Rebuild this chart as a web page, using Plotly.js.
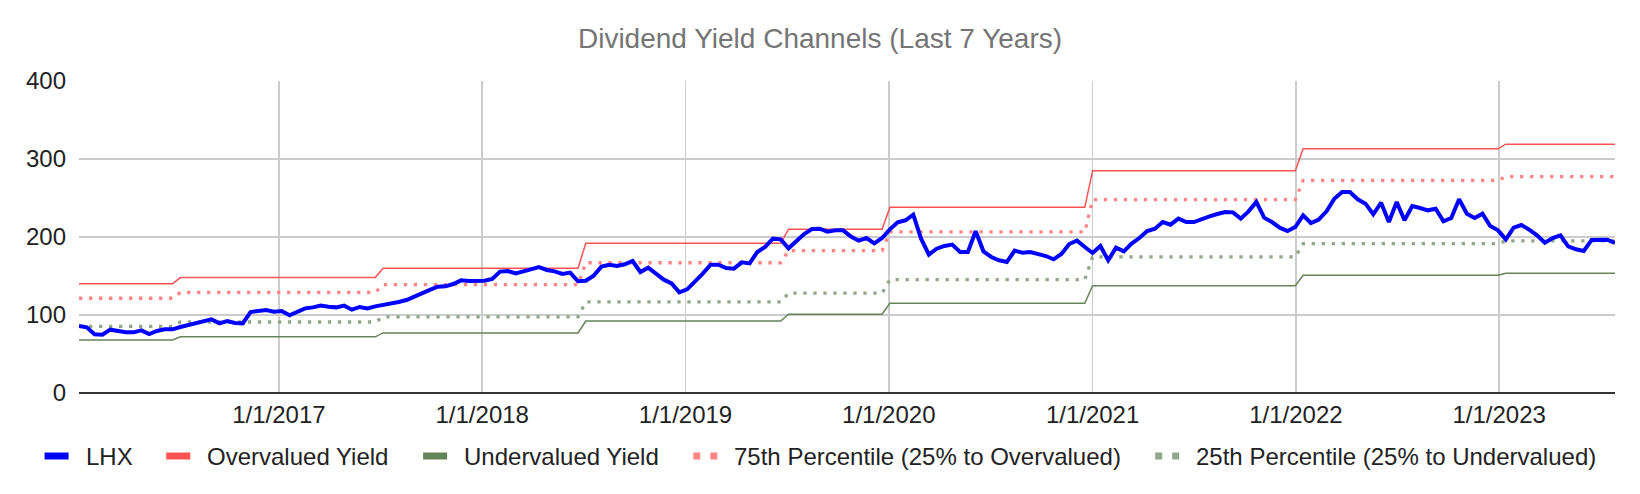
<!DOCTYPE html>
<html>
<head>
<meta charset="utf-8">
<script src="https://cdn.plot.ly/plotly-3.0.1.min.js"></script>
<style>
  html, body { margin: 0; padding: 0; background: #fff; }
  #chart { width: 1640px; height: 494px; }
</style>
</head>
<body>
<div id="chart"></div>
<script>
// LHX dividend yield, sampled every two weeks from the first date.
const lhxStart = '2016-01-08';
const lhxStepDays = 14;
const lhxValues = [
    85.9, 84.2, 75.2, 74.8, 81.2, 79.1, 77.8, 77.8, 80.3, 75.6, 79.5, 81.6, 81.6, 84.6, 87.2, 89.7, 91.9,
    94.4, 89.3, 92.3, 89.7, 89.3, 103.8, 105.6, 106.4, 104.3, 105.1, 99.6, 103.8, 108.5, 109.8, 112.0, 110.7, 109.8,
    112.0, 106.8, 110.3, 108.5, 111.1, 112.8, 114.1, 116.7, 119.2, 123.1, 127.4, 132.1, 136.3, 136.8, 139.7, 144.4,
    143.6, 143.6, 144.0, 146.2, 155.6, 156.4, 153.4, 156.0, 158.5, 161.5, 157.7, 156.0, 152.6, 154.3, 143.2, 144.0, 150.4,
    162.0, 164.5, 162.8, 165.0, 169.2, 155.1, 160.7, 153.0, 145.3, 140.6, 129.1, 132.9, 142.3, 153.0, 164.5, 164.5,
    160.3, 159.4, 167.5, 166.2, 180.8, 187.2, 197.9, 197.0, 185.5, 194.4, 203.8, 210.3, 210.7, 206.8, 208.5, 208.5, 200.6,
    195.3, 198.7, 191.9, 198.7, 209.8, 218.8, 221.4, 228.6, 197.9, 177.4, 185.0, 188.5, 190.2, 180.8, 180.8, 207.3, 181.6,
    174.4, 170.1, 167.9, 182.5, 179.9, 180.8, 178.2, 175.6, 171.4, 178.2, 191.0, 195.3, 187.2, 179.5, 188.5, 170.1, 186.3,
    181.6, 191.5, 198.7, 207.7, 210.7, 219.2, 215.8, 223.5, 219.2, 219.2, 223.1, 226.5, 229.5, 232.1, 231.6, 223.5,
    232.9, 244.9, 224.8, 219.2, 212.0, 207.7, 212.8, 227.8, 217.9, 222.2, 232.9, 249.1, 257.7, 257.7, 248.3, 242.7, 229.1,
    244.0, 219.2, 244.9, 221.4, 239.7, 237.2, 234.2, 236.3, 220.1, 224.4, 248.3, 229.9, 224.4, 229.9, 214.1, 208.5,
    197.0, 212.0, 215.4, 209.4, 202.1, 192.7, 198.7, 202.1, 188.0, 184.2, 182.1, 196.2, 196.6, 196.6, 192.3,
];

// Channel levels hold between a period's first and last sample.
const periodStarts = [ '2016-01-08', '2016-07-08', '2017-07-07', '2018-07-06', '2019-07-05', '2020-01-03', '2021-01-01', '2022-01-14', '2023-01-13' ];
const periodEnds = [ '2016-06-24', '2017-06-23', '2018-06-22', '2019-06-21', '2019-12-20', '2020-12-18', '2021-12-31', '2022-12-30', '2023-07-28' ];
const overvalued = [ 140, 148, 160, 192, 210, 238, 285, 313, 319 ];
const pct75 = [ 121.5, 129, 139, 167, 182.5, 206.5, 248, 272.5, 277.5 ];
const pct25 = [ 85.5, 91, 97.5, 116.7, 128, 145.3, 174.4, 191.5, 195 ];
const undervalued = [ 68, 72, 77, 92.3, 101, 115, 137.5, 151, 153.5 ];

const yearTicks = [ '2017-01-01', '2018-01-01', '2019-01-01', '2020-01-01', '2021-01-01', '2022-01-01', '2023-01-01' ];
const yearLabels = [ '1/1/2017', '1/1/2018', '1/1/2019', '1/1/2020', '1/1/2021', '1/1/2022', '1/1/2023' ];

const font = 'Arial, "Liberation Sans", sans-serif';
const margin = { l: 79, r: 25, t: 81, b: 101 };
const [ width, height ] = [ 1640, 494 ];
const plotW = width - margin.l - margin.r;
const plotH = height - margin.t - margin.b;

function addDays(iso, n) {
    const d = new Date(iso + 'T00:00:00Z');
    d.setUTCDate(d.getUTCDate() + n);
    return d.toISOString().slice(0, 10);
}

const lhxDates = lhxValues.map((_, i) => addDays(lhxStart, i * lhxStepDays));
const channelX = periodStarts.flatMap((start, i) => [ start, periodEnds[i] ]);
const channelY = levels => levels.flatMap(v => [ v, v ]);

const series = [
    { name: 'LHX', color: '#0000ff', width: 4, dash: 'solid', x: lhxDates, y: lhxValues },
    { name: 'Overvalued Yield', color: '#ff5252', width: 1.5, dash: 'solid', x: channelX, y: channelY(overvalued) },
    { name: 'Undervalued Yield', color: '#65845a', width: 1.5, dash: 'solid', x: channelX, y: channelY(undervalued) },
    { name: '75th Percentile (25% to Overvalued)', color: '#ff8585', width: 3.3, dash: '3.3px,6.7px', x: channelX, y: channelY(pct75), dotted: true },
    { name: '25th Percentile (25% to Undervalued)', color: '#93a68a', width: 3.3, dash: '3.3px,6.7px', x: channelX, y: channelY(pct25), dotted: true },
];

// Channels first so LHX is drawn on top.
const traces = [ ...series.slice(1), series[0] ].map(s => ({
    x: s.x, y: s.y, mode: 'lines', name: s.name, hoverinfo: 'skip',
    line: { color: s.color, width: s.width, dash: s.dash },
}));

// Legend drawn by hand: thick swatch, label, centred under the chart.
const ctx = document.createElement('canvas').getContext('2d');
ctx.font = `24px ${font}`;
const swatchW = 24, swatchH = 7, labelGap = 16, itemGap = 35, legendY = 456;
const itemWidths = series.map(s => swatchW + labelGap + ctx.measureText(s.name).width);
const legendW = itemWidths.reduce((a, b) => a + b, 0) + itemGap * (series.length - 1);
const toPaperX = px => (px - margin.l) / plotW;
const toPaperY = py => (margin.t + plotH - py) / plotH;

const shapes = [];
const annotations = [];
let cursor = width / 2 - legendW / 2;

series.forEach((s, i) => {
    const rect = (x0, x1) => ({
        type: 'rect', xref: 'paper', yref: 'paper', line: { width: 0 }, fillcolor: s.color,
        x0: toPaperX(x0), x1: toPaperX(x1),
        y0: toPaperY(legendY - swatchH / 2), y1: toPaperY(legendY + swatchH / 2),
    });

    if (s.dotted) {
        shapes.push(rect(cursor, cursor + swatchH), rect(cursor + swatchW - swatchH, cursor + swatchW));
    }
    else {
        shapes.push(rect(cursor, cursor + swatchW));
    }
    annotations.push({
        xref: 'paper', yref: 'paper', x: toPaperX(cursor + swatchW + labelGap), y: toPaperY(legendY),
        xanchor: 'left', yanchor: 'middle', showarrow: false, borderpad: 0,
        text: s.name, font: { family: font, size: 24, color: '#222' },
    });
    cursor += itemWidths[i] + itemGap;
});

const layout = {
    width,
    height,
    margin,
    paper_bgcolor: '#fff',
    plot_bgcolor: '#fff',
    font: { family: font, size: 24, color: '#222' },
    title: {
        text: 'Dividend Yield Channels (Last 7 Years)',
        font: { family: font, size: 28, color: '#757575' },
        x: 0.5, xref: 'container', xanchor: 'center',
        y: 1 - 38 / height, yref: 'container', yanchor: 'middle',
    },
    showlegend: false,
    shapes,
    annotations,
    xaxis: {
        type: 'date',
        range: [ lhxStart, lhxDates[lhxDates.length - 1] ],
        tickvals: yearTicks,
        ticktext: yearLabels,
        tickfont: { family: font, size: 24, color: '#222' },
        showgrid: true,
        gridcolor: '#cccccc',
        gridwidth: 1.5,
        zeroline: false,
        showline: false,
        ticks: '',
        ticklabelstandoff: 5,
        fixedrange: true,
    },
    yaxis: {
        range: [ 0, 400 ],
        tickvals: [ 0, 100, 200, 300, 400 ],
        tickfont: { family: font, size: 24, color: '#222' },
        showgrid: true,
        gridcolor: '#cccccc',
        gridwidth: 1.5,
        zeroline: true,
        zerolinecolor: '#333333',
        zerolinewidth: 2,
        showline: false,
        ticks: '',
        ticklabelstandoff: 12,
        fixedrange: true,
    },
};

Plotly.newPlot('chart', traces, layout, { displayModeBar: false, staticPlot: true });
</script>
</body>
</html>
